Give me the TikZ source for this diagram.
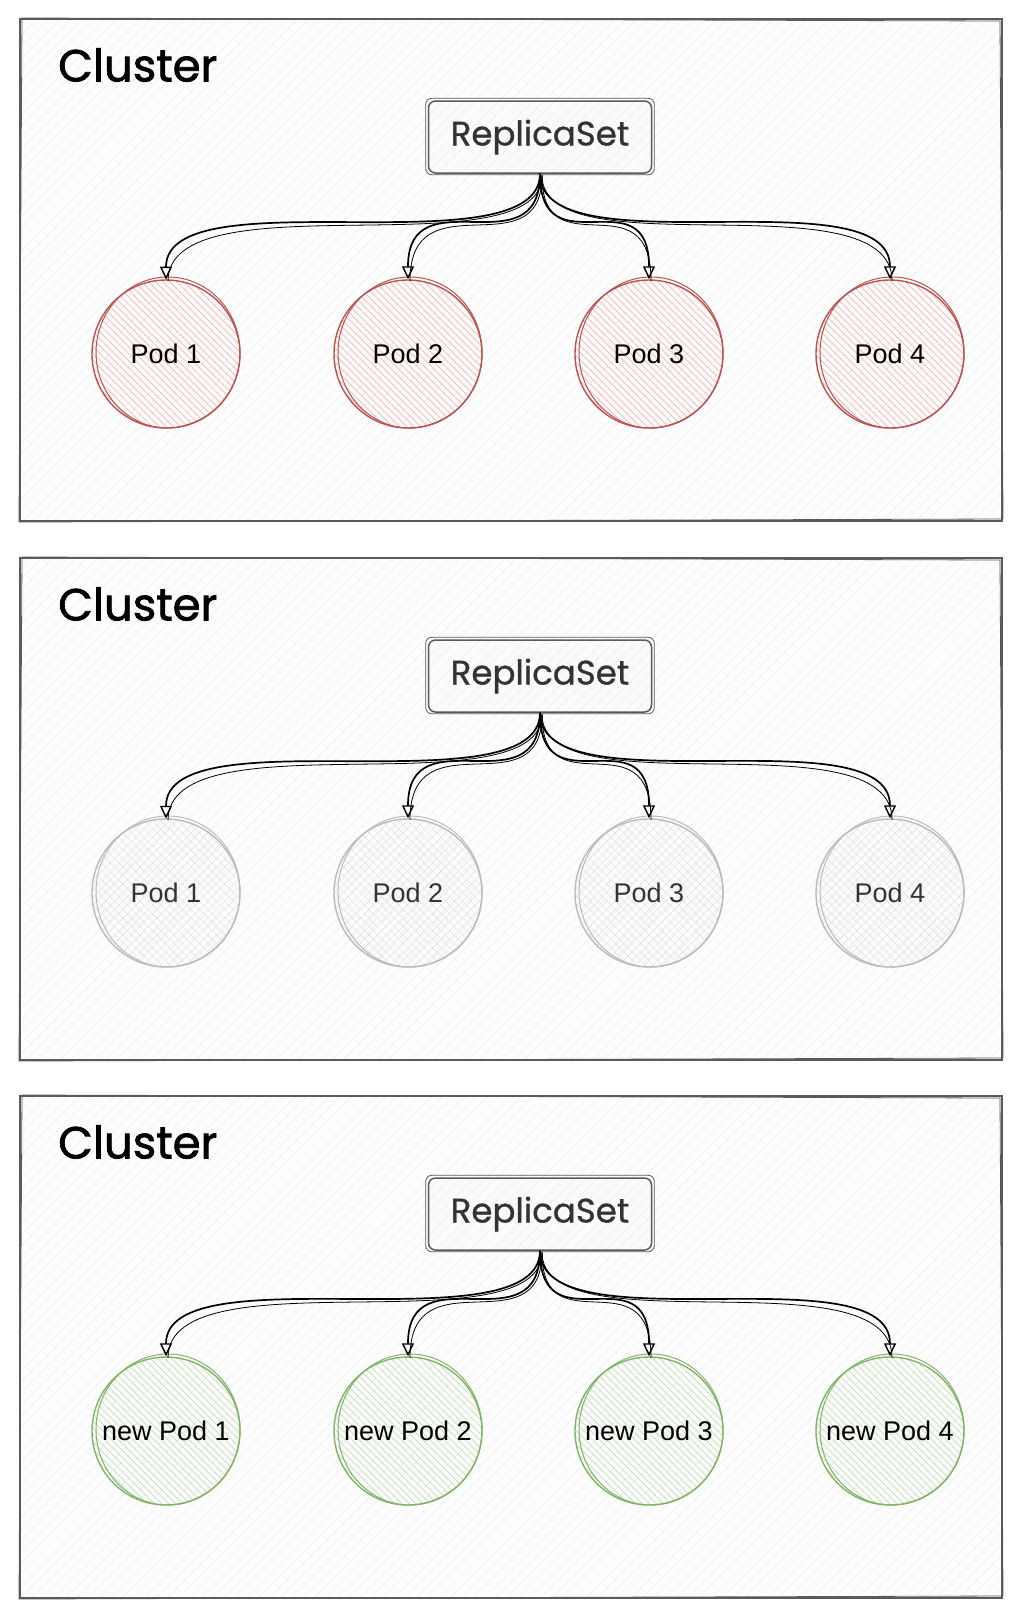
\documentclass[tikz,border=0pt]{standalone}
\usepackage{fontspec}
\setmainfont{Liberation Sans}
\newfontfamily\handfont[FakeBold=1.6]{Poppins}
\newfontfamily\rsfont[FakeBold=0.8]{Poppins}
\usetikzlibrary{patterns.meta,arrows.meta,calc}
\definecolor{frame}{HTML}{5A5A5A}
\definecolor{redline}{HTML}{B85450}
\definecolor{redfill}{HTML}{F3B5B3}
\definecolor{grayline}{HTML}{BBBBBB}
\definecolor{grayfill}{HTML}{E2E2E2}
\definecolor{greenline}{HTML}{82B366}
\definecolor{greenfill}{HTML}{C2DEB8}
\definecolor{txt}{HTML}{333333}
\tikzset{
  panel/.style={draw=frame, line width=1.8pt, preaction={fill=black!0.8},
    pattern={Lines[angle=45,distance=8pt,line width=0.5pt]}, pattern color=black!7},
  panel sketch/.style={draw=frame, line width=0.8pt},
  rsbox/.style={draw=frame, line width=1.5pt, rounded corners=7pt,
    minimum width=223pt, minimum height=72pt, inner sep=0pt,
    preaction={fill=black!1.5},
    pattern={Lines[angle=45,distance=8pt,line width=0.5pt]}, pattern color=black!8,
    font=\rsfont\fontsize{34}{40}\selectfont, text=txt},
  rs sketch/.style={draw=frame, line width=0.8pt, rounded corners=6pt},
  clusterlabel/.style={anchor=west, inner sep=0pt, font=\handfont\fontsize{45}{50}\selectfont, text=black},
  podbase/.style={circle, minimum size=148pt, inner sep=0pt, line width=1.4pt,
    font=\fontsize{27}{30}\selectfont},
  podred/.style={podbase, draw=redline,
    pattern={Lines[angle=-45,distance=5pt,line width=0.7pt]}, pattern color=redfill, text=black},
  podred sketch/.style={draw=redline, line width=1pt},
  podgray/.style={podbase, draw=grayline,
    preaction={pattern={Lines[angle=45,distance=6pt,line width=0.5pt]}, pattern color=grayfill},
    pattern={Lines[angle=-45,distance=6pt,line width=0.5pt]}, pattern color=grayfill, text=txt},
  podgray sketch/.style={draw=grayline, line width=1pt},
  podgreen/.style={podbase, draw=greenline,
    pattern={Lines[angle=-45,distance=5pt,line width=0.7pt]}, pattern color=greenfill, text=black},
  podgreen sketch/.style={draw=greenline, line width=1pt},
  conn/.style={draw=black, line width=1.7pt,
    -{Triangle[open, length=13pt, width=12pt, line width=1.4pt]},
    postaction={draw, -, line width=0.8pt, transform canvas={shift={(2pt,-1.5pt)}}}},
}
\newcommand\mkcluster[4]{%
  \path[panel] (20,#2) rectangle (1002,{#2+502});
  \draw[panel sketch] (22,{#2-1}) -- (1000,{#2+2}) -- (1003,{#2+500}) -- (19,{#2+503}) -- cycle;
  \node[clusterlabel] (cl#1) at (58,{#2+46}) {Cluster};
  \node[rsbox] (rs#1) at (540,{#2+118}) {ReplicaSet};
  \draw[rs sketch] ([shift={(-2,-2)}]rs#1.north west) rectangle ([shift={(2,1)}]rs#1.south east);
  \foreach \i/\x in {1/166,2/408,3/649,4/890}{
    \node[#3] (p#1\i) at (\x,{#2+335}) {#4Pod \i};
    \draw[#3 sketch] ([shift={(2,-1.5)}]p#1\i.center) ellipse[x radius=72, y radius=75.5];
    \draw[conn] (rs#1.south) .. controls +(0,97) and +(0,-105) .. (p#1\i.north);
  }
}
\begin{document}
\begin{tikzpicture}[x=1pt,y=-1pt]
\useasboundingbox (0,0) rectangle (1024,1618);
\mkcluster{a}{19}{podred}{}
\mkcluster{b}{558}{podgray}{}
\mkcluster{c}{1096}{podgreen}{new }
\end{tikzpicture}
\end{document}
